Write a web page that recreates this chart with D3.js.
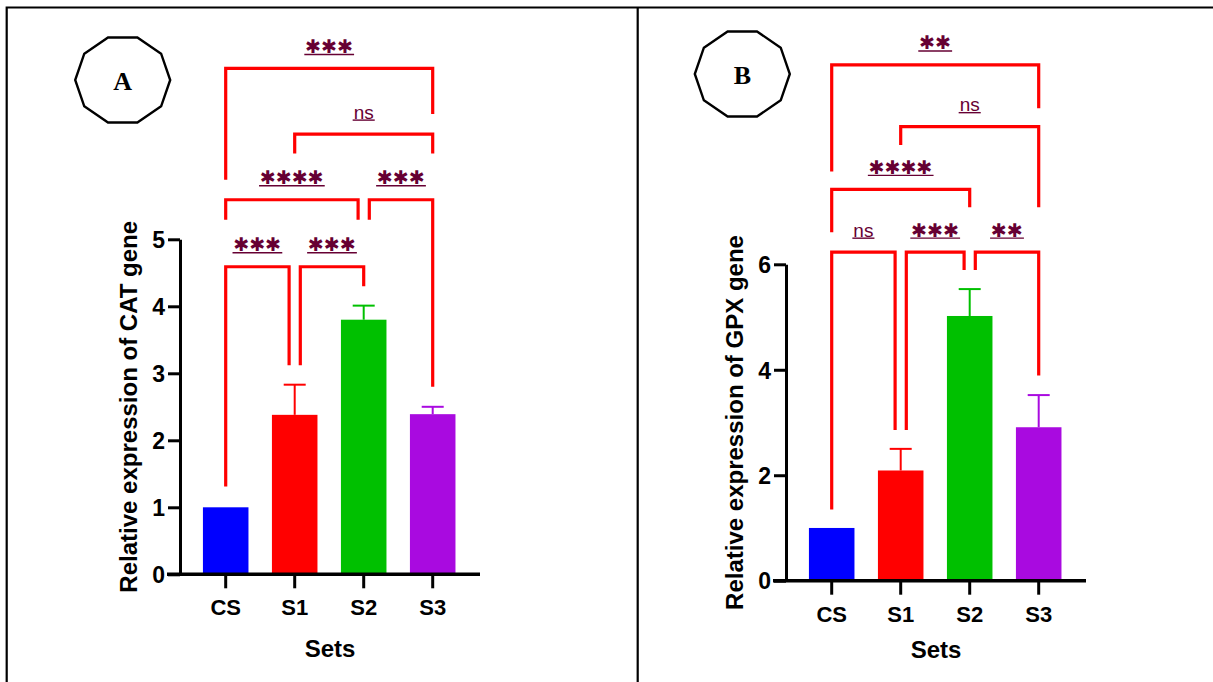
<!DOCTYPE html>
<html>
<head>
<meta charset="utf-8">
<script src="https://cdn.jsdelivr.net/npm/d3@7"></script>
<style>
  html, body { margin: 0; padding: 0; background: #fff; }
  svg { display: block; }
</style>
</head>
<body>
<svg id="chart"></svg>
<script>
// groups on the x axis
const sets = ["CS", "S1", "S2", "S3"];

// panel A: CAT gene
const catMean = [1.00, 2.38, 3.80, 2.39];
const catErr = [0, 0.45, 0.21, 0.11];
const catTicks = [0, 1, 2, 3, 4, 5];

// panel B: GPX gene
const gpxMean = [1.00, 2.09, 5.02, 2.91];
const gpxErr = [0, 0.41, 0.51, 0.61];
const gpxTicks = [0, 2, 4, 6];

// significance brackets: [from, to, label, bracket height, left leg end, right leg end] in y units
const catTests = [
    ["CS", "S1", "***", 4.59, 1.31, 3.12],
    ["S1", "S2", "***", 4.59, 3.12, 4.30],
    ["CS", "S2", "****", 5.59, 5.29, 5.29],
    ["S2", "S3", "***", 5.59, 5.29, 2.80],
    ["S1", "S3", "ns", 6.57, 6.28, 6.28],
    ["CS", "S3", "***", 7.55, 5.89, 6.87]
];
const gpxTests = [
    ["CS", "S1", "ns", 6.23, 1.35, 2.86],
    ["S1", "S2", "***", 6.23, 2.86, 5.89],
    ["S2", "S3", "**", 6.23, 5.89, 3.89],
    ["CS", "S2", "****", 7.42, 6.61, 7.08],
    ["S1", "S3", "ns", 8.61, 8.26, 7.08],
    ["CS", "S3", "**", 9.78, 7.76, 8.96]
];

const barColors = ["#0000ff", "#ff0000", "#00c000", "#a90ae0"];
const starColor = "#660033";
const W = 1213, H = 682;

const svg = d3.select("#chart")
    .attr("width", W)
    .attr("height", H);

// table frame
svg.append("path")
    .attr("d", "M6.7,682V7.5H1213M637.7,7.5V682")
    .attr("fill", "none")
    .attr("stroke", "#000")
    .attr("stroke-width", 2.2);

function drawPanel(p) {
    var g = svg.append("g");

    var y = d3.scaleLinear()
        .domain([0, d3.max(p.ticks)])
        .range([p.y0, p.yTop]);
    var x = d3.scaleBand()
        .domain(sets)
        .range([p.axisX + 11.2, p.axisX + 11.2 + 276])
        .paddingInner(0.34)
        .paddingOuter(0.17);
    var cx = d => x(d) + x.bandwidth() / 2;

    // bars
    g.selectAll(".bar")
        .data(p.mean)
        .join("rect")
        .attr("x", (d, i) => x(sets[i]))
        .attr("y", d => y(d))
        .attr("width", x.bandwidth())
        .attr("height", d => y(0) - y(d))
        .attr("fill", (d, i) => barColors[i]);

    // error bars (upper only)
    var eb = g.selectAll(".err")
        .data(p.mean.map((m, i) => ({ m: m, e: p.err[i], i: i })).filter(d => d.e > 0))
        .join("g")
        .attr("stroke", d => barColors[d.i])
        .attr("stroke-width", 2);
    eb.append("line")
        .attr("x1", d => cx(sets[d.i])).attr("x2", d => cx(sets[d.i]))
        .attr("y1", d => y(d.m)).attr("y2", d => y(d.m + d.e));
    eb.append("line")
        .attr("x1", d => cx(sets[d.i]) - 11).attr("x2", d => cx(sets[d.i]) + 11)
        .attr("y1", d => y(d.m + d.e)).attr("y2", d => y(d.m + d.e));

    // y axis
    var ya = g.append("g")
        .attr("transform", "translate(" + p.axisX + ",0)")
        .call(d3.axisLeft(y).tickValues(p.ticks).tickSize(12).tickSizeOuter(0).tickFormat(d3.format("d")));
    ya.selectAll("path, line").attr("stroke", "#000").attr("stroke-width", 3);
    ya.selectAll("text")
        .attr("x", -15)
        .attr("dy", "0.36em")
        .attr("fill", "#000")
        .style("font-family", "'Liberation Sans', Arial, sans-serif")
        .style("font-weight", "bold")
        .style("font-size", "23px");

    // x axis
    var xa = g.append("g")
        .attr("transform", "translate(0," + p.y0 + ")")
        .call(d3.axisBottom(x).tickSize(14).tickSizeOuter(0));
    xa.select(".domain").remove();
    xa.selectAll("line").attr("stroke", "#000").attr("stroke-width", 3);
    xa.selectAll("text")
        .attr("y", 41)
        .attr("dy", 0)
        .attr("fill", "#000")
        .style("font-family", "'Liberation Sans', Arial, sans-serif")
        .style("font-weight", "bold")
        .style("font-size", "22px");
    g.append("line")
        .attr("x1", p.axisX - 13).attr("x2", p.axisX + 300)
        .attr("y1", p.y0).attr("y2", p.y0)
        .attr("stroke", "#000")
        .attr("stroke-width", 3.4);

    // axis titles
    g.append("text")
        .attr("x", (p.axisX + 150))
        .attr("y", p.y0 + p.setsDy)
        .attr("text-anchor", "middle")
        .style("font-family", "'Liberation Sans', Arial, sans-serif")
        .style("font-weight", "bold")
        .style("font-size", "24px")
        .text("Sets");
    g.append("text")
        .attr("transform", "translate(" + (p.axisX - 43) + "," + ((y(0) + y(d3.max(p.ticks))) / 2) + ") rotate(-90)")
        .attr("text-anchor", "middle")
        .style("font-family", "'Liberation Sans', Arial, sans-serif")
        .style("font-weight", "bold")
        .style("font-size", "24px")
        .text(p.title);

    // significance brackets, legs nudged apart where two brackets meet on one bar
    var gap = 5.6;
    p.tests.forEach(function (t) {
        var shareL = p.tests.some(o => o !== t && o[3] === t[3] && o[1] === t[0]);
        var shareR = p.tests.some(o => o !== t && o[3] === t[3] && o[0] === t[1]);
        var xl = cx(t[0]) + (shareL ? gap : 0);
        var xr = cx(t[1]) - (shareR ? gap : 0);
        var yl = y(t[3]);
        g.append("path")
            .attr("d", "M" + xl + "," + y(t[4]) + "V" + yl + "H" + xr + "V" + y(t[5]))
            .attr("fill", "none")
            .attr("stroke", "#ff0000")
            .attr("stroke-width", 3.2)
            .attr("stroke-linejoin", "miter");

        var isStar = t[2] !== "ns";
        var lab = g.append("text")
            .attr("x", (xl + xr) / 2)
            .attr("y", yl - (isStar ? 15.5 : 15.5))
            .attr("text-anchor", "middle")
            .attr("fill", starColor)
            .style("font-family", isStar ? "'DejaVu Sans', sans-serif" : "'Liberation Sans', Arial, sans-serif")
            .style("font-size", isStar ? "19px" : "19px")
            .text(isStar ? t[2].replace(/\*/g, "\u2731") : t[2]);
        var bb = lab.node().getBBox();
        g.append("line")
            .attr("x1", bb.x - 1).attr("x2", bb.x + bb.width + 1)
            .attr("y1", yl - 14).attr("y2", yl - 14)
            .attr("stroke", starColor)
            .attr("stroke-width", 1.4);
    });

    // decagon badge with panel letter
    var pts = d3.range(10).map(k => [p.badge[0] + 47.5 * Math.cos(k * Math.PI / 5), p.badge[1] + 44.7 * Math.sin(k * Math.PI / 5)]);
    g.append("polygon")
        .attr("points", pts.map(q => q.join(",")).join(" "))
        .attr("fill", "#fff")
        .attr("stroke", "#000")
        .attr("stroke-width", 2.4);
    g.append("text")
        .attr("x", p.badge[0])
        .attr("y", p.badge[1] + 9.5)
        .attr("text-anchor", "middle")
        .style("font-family", "'Liberation Serif', 'Times New Roman', serif")
        .style("font-weight", "bold")
        .style("font-size", "26px")
        .text(p.letter);
}

drawPanel({
    mean: catMean, err: catErr, ticks: catTicks, tests: catTests,
    axisX: 180, y0: 574.3, yTop: 239.3, setsDy: 82.4,
    title: "Relative expression of CAT gene",
    badge: [122.7, 80], letter: "A"
});
drawPanel({
    mean: gpxMean, err: gpxErr, ticks: gpxTicks, tests: gpxTests,
    axisX: 786, y0: 580.7, yTop: 264.3, setsDy: 77.6,
    title: "Relative expression of GPX gene",
    badge: [742.3, 74], letter: "B"
});
</script>
</body>
</html>
